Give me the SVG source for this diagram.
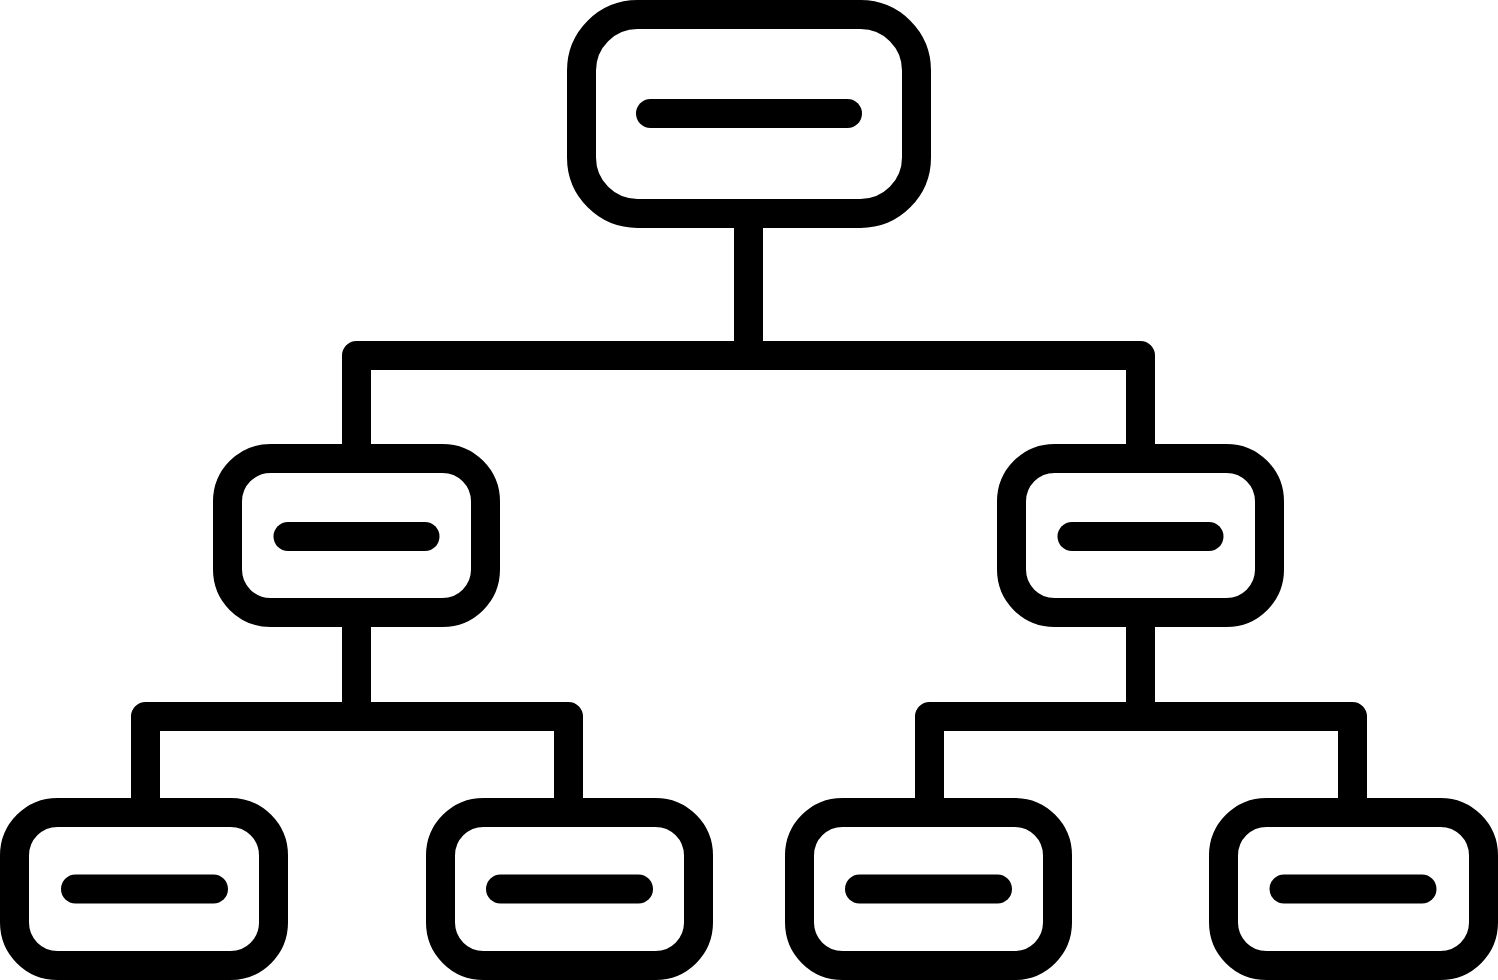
<svg xmlns="http://www.w3.org/2000/svg" width="1498" height="980" viewBox="0 0 1498 980">
<style>
.box{fill:#fff;stroke:#000;stroke-width:29}
.bar{stroke:#000;stroke-width:29;stroke-linecap:round}
.con{fill:none;stroke:#000;stroke-width:29;stroke-linejoin:round}
</style>
<rect width="1498" height="980" fill="#fff"/>
<g id="connectors">
<path class="con" d="M748.5,228 V355.5 M356.5,444 V355.5 H1140.5 V444"/>
<path class="con" d="M356.5,627 V716.5 M145.5,798 V716.5 H568.5 V798"/>
<path class="con" d="M1140.5,627 V716.5 M929.5,798 V716.5 H1352.5 V798"/>
</g>
<g id="node-root">
<rect class="box" x="581.5" y="14.5" width="335" height="199" rx="56"/>
<line class="bar" x1="650.5" y1="113.5" x2="847.5" y2="113.5"/>
</g>
<g id="node-mid-left">
<rect class="box" x="227.5" y="458.5" width="258" height="154" rx="43"/>
<line class="bar" x1="288" y1="536.5" x2="425" y2="536.5"/>
</g>
<g id="node-mid-right">
<rect class="box" x="1011.5" y="458.5" width="258" height="154" rx="43"/>
<line class="bar" x1="1072" y1="536.5" x2="1209" y2="536.5"/>
</g>
<g id="node-leaf-1">
<rect class="box" x="14.5" y="812.5" width="259" height="153" rx="43"/>
<line class="bar" x1="75.5" y1="889" x2="213.5" y2="889"/>
</g>
<g id="node-leaf-2">
<rect class="box" x="440.5" y="812.5" width="258" height="153" rx="43"/>
<line class="bar" x1="500.5" y1="889" x2="638.5" y2="889"/>
</g>
<g id="node-leaf-3">
<rect class="box" x="799.5" y="812.5" width="258" height="153" rx="43"/>
<line class="bar" x1="859.5" y1="889" x2="997.5" y2="889"/>
</g>
<g id="node-leaf-4">
<rect class="box" x="1223.5" y="812.5" width="260" height="153" rx="43"/>
<line class="bar" x1="1284" y1="889" x2="1422" y2="889"/>
</g>
</svg>
